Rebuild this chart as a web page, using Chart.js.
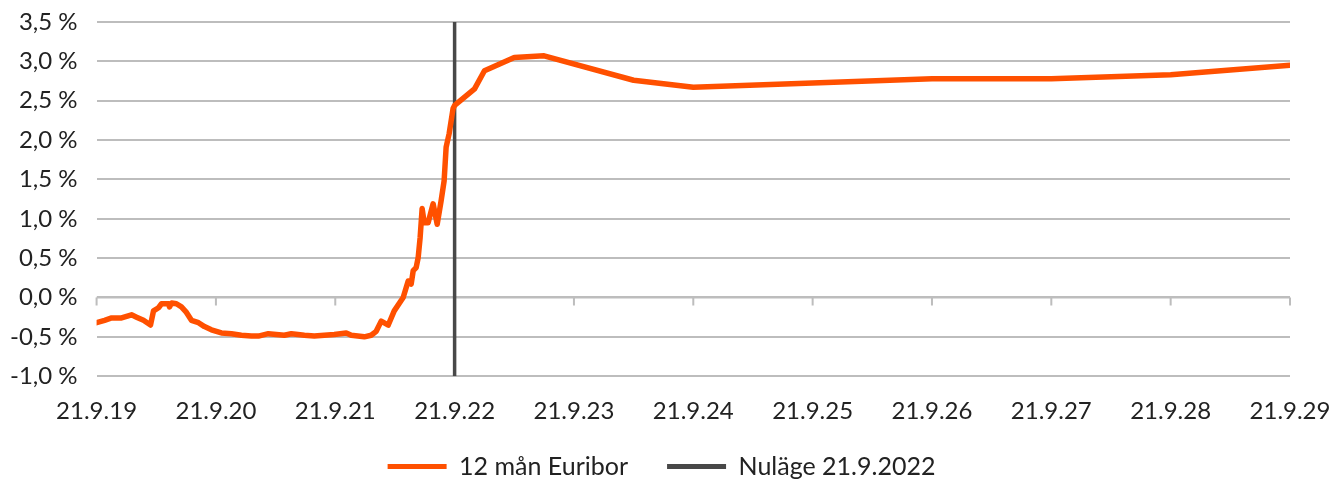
<!DOCTYPE html>
<html>
<head>
<meta charset="utf-8">
<script src="https://cdn.jsdelivr.net/npm/chart.js@4/dist/chart.umd.min.js"></script>
<style>
  html, body { margin: 0; padding: 0; background: #fff; }
  #wrap { width: 1332px; height: 479px; }
</style>
</head>
<body>
<div id="wrap"><canvas id="chart"></canvas></div>
<script>
// x = years since 21.9.2019
const euriborYears = [
  0.000, 0.067, 0.126, 0.209, 0.293, 0.335, 0.393, 0.452, 0.477, 0.519,
  0.544, 0.603, 0.611, 0.628, 0.669, 0.711, 0.753, 0.795, 0.854, 0.904,
  0.962, 1.046, 1.130, 1.213, 1.297, 1.356, 1.439, 1.573, 1.632, 1.741,
  1.824, 1.908, 1.992, 2.092, 2.134, 2.243, 2.301, 2.343, 2.385, 2.444,
  2.494, 2.569, 2.611, 2.636, 2.653, 2.678, 2.695, 2.711, 2.728, 2.745,
  2.778, 2.820, 2.854, 2.887, 2.912, 2.929, 2.954, 2.987, 3.000,
  // forward curve
  3.167, 3.250, 3.500, 3.750, 4.500, 5.000, 7.000, 8.000, 9.000, 10.000,
];
const euriborValues = [
  -0.32, -0.29, -0.26, -0.26, -0.22, -0.25, -0.29, -0.35, -0.17, -0.13,
  -0.08, -0.08, -0.12, -0.07, -0.08, -0.12, -0.19, -0.29, -0.32, -0.37,
  -0.41, -0.45, -0.46, -0.48, -0.49, -0.49, -0.46, -0.48, -0.46, -0.48,
  -0.49, -0.48, -0.47, -0.45, -0.48, -0.50, -0.48, -0.43, -0.30, -0.35,
  -0.17, 0.00, 0.21, 0.17, 0.34, 0.38, 0.51, 0.76, 1.13, 0.95,
  0.95, 1.19, 0.93, 1.23, 1.48, 1.91, 2.08, 2.40, 2.44,
  2.65, 2.88, 3.05, 3.07, 2.76, 2.67, 2.78, 2.78, 2.83, 2.95,
];

const nowYear = 3;
const nowRange = [-1, 3.5];

const xTickLabels = ["21.9.19", "21.9.20", "21.9.21", "21.9.22", "21.9.23", "21.9.24",
  "21.9.25", "21.9.26", "21.9.27", "21.9.28", "21.9.29"];
const yTickValues = [-1, -0.5, 0, 0.5, 1, 1.5, 2, 2.5, 3, 3.5];
const yTickLabels = ["-1,0 %", "-0,5 %", "0,0 %", "0,5 %", "1,0 %", "1,5 %", "2,0 %", "2,5 %", "3,0 %", "3,5 %"];

const ORANGE = "#ff5000";
const DARK = "#484848";
const GRID = "#bdbdbd";
const TEXT = "#222";
const X_AXIS_SQUEEZE = 24;

Chart.defaults.font.family = "Lato, 'Open Sans', sans-serif";
Chart.defaults.font.size = 24;
Chart.defaults.color = TEXT;

// short tick marks on the zero line, like the original axis
const zeroAxisTicks = {
  id: "zeroAxisTicks",
  afterLayout(chart) {
    // the x axis box was squeezed so the legend sits closer; don't clip its labels
    chart.scales.x.bottom += X_AXIS_SQUEEZE;
  },
  beforeDatasetsDraw(chart) {
    const { ctx, scales: { x, y } } = chart;
    const y0 = y.getPixelForValue(0);
    ctx.save();
    ctx.strokeStyle = GRID;
    ctx.lineWidth = 2;
    ctx.beginPath();
    ctx.moveTo(x.left, y0);
    ctx.lineTo(x.right, y0);
    for (let i = 0; i < xTickLabels.length; i++) {
      const px = x.getPixelForValue(i);
      ctx.moveTo(px, y0);
      ctx.lineTo(px, y0 + 8);
    }
    ctx.stroke();
    ctx.restore();
  },
};

new Chart(document.getElementById("chart"), {
  type: "line",
  data: {
    datasets: [
      {
        label: "12 mån Euribor",
        data: euriborYears.map((x, i) => ({ x, y: euriborValues[i] })),
        borderColor: ORANGE,
        backgroundColor: ORANGE,
        borderWidth: 5.5,
        pointRadius: 0,
        tension: 0,
        borderCapStyle: "round",
        borderJoinStyle: "round",
        order: 1,
      },
      {
        label: "Nuläge 21.9.2022",
        data: nowRange.map((y) => ({ x: nowYear, y })),
        borderColor: DARK,
        backgroundColor: DARK,
        borderWidth: 3.5,
        pointRadius: 0,
        order: 2,
      },
    ],
  },
  options: {
    responsive: true,
    maintainAspectRatio: false,
    animation: false,
    layout: { padding: { top: 0, right: 0, left: -9, bottom: -10 } },
    scales: {
      x: {
        type: "linear",
        min: 0,
        max: 10,
        afterBuildTicks: (axis) => {
          axis.ticks = xTickLabels.map((_, i) => ({ value: i }));
        },
        afterFit: (axis) => {
          axis.height -= X_AXIS_SQUEEZE;
          axis.paddingRight = 42;
        },
        ticks: {
          padding: 13,
          maxRotation: 0,
          autoSkip: false,
          callback: (v) => xTickLabels[v] ?? "",
        },
        grid: { display: false },
        border: { display: false },
      },
      y: {
        min: -1,
        max: 3.5,
        afterBuildTicks: (axis) => {
          axis.ticks = yTickValues.map((value) => ({ value }));
        },
        afterFit: (axis) => {
          axis.paddingTop = 22;
        },
        ticks: {
          padding: 19,
          callback: (v) => yTickLabels[yTickValues.indexOf(v)] ?? "",
        },
        grid: { color: GRID, lineWidth: 2, drawTicks: false },
        border: { display: false },
      },
    },
    plugins: {
      legend: {
        position: "bottom",
        labels: {
          boxWidth: 59,
          boxHeight: 5,
          padding: 39,
          font: { size: 25 },
          generateLabels: (chart) =>
            Chart.defaults.plugins.legend.labels.generateLabels(chart).map((l) => ({ ...l, lineWidth: 0 })),
        },
      },
      tooltip: { enabled: false },
    },
  },
  plugins: [zeroAxisTicks],
});
</script>
</body>
</html>
